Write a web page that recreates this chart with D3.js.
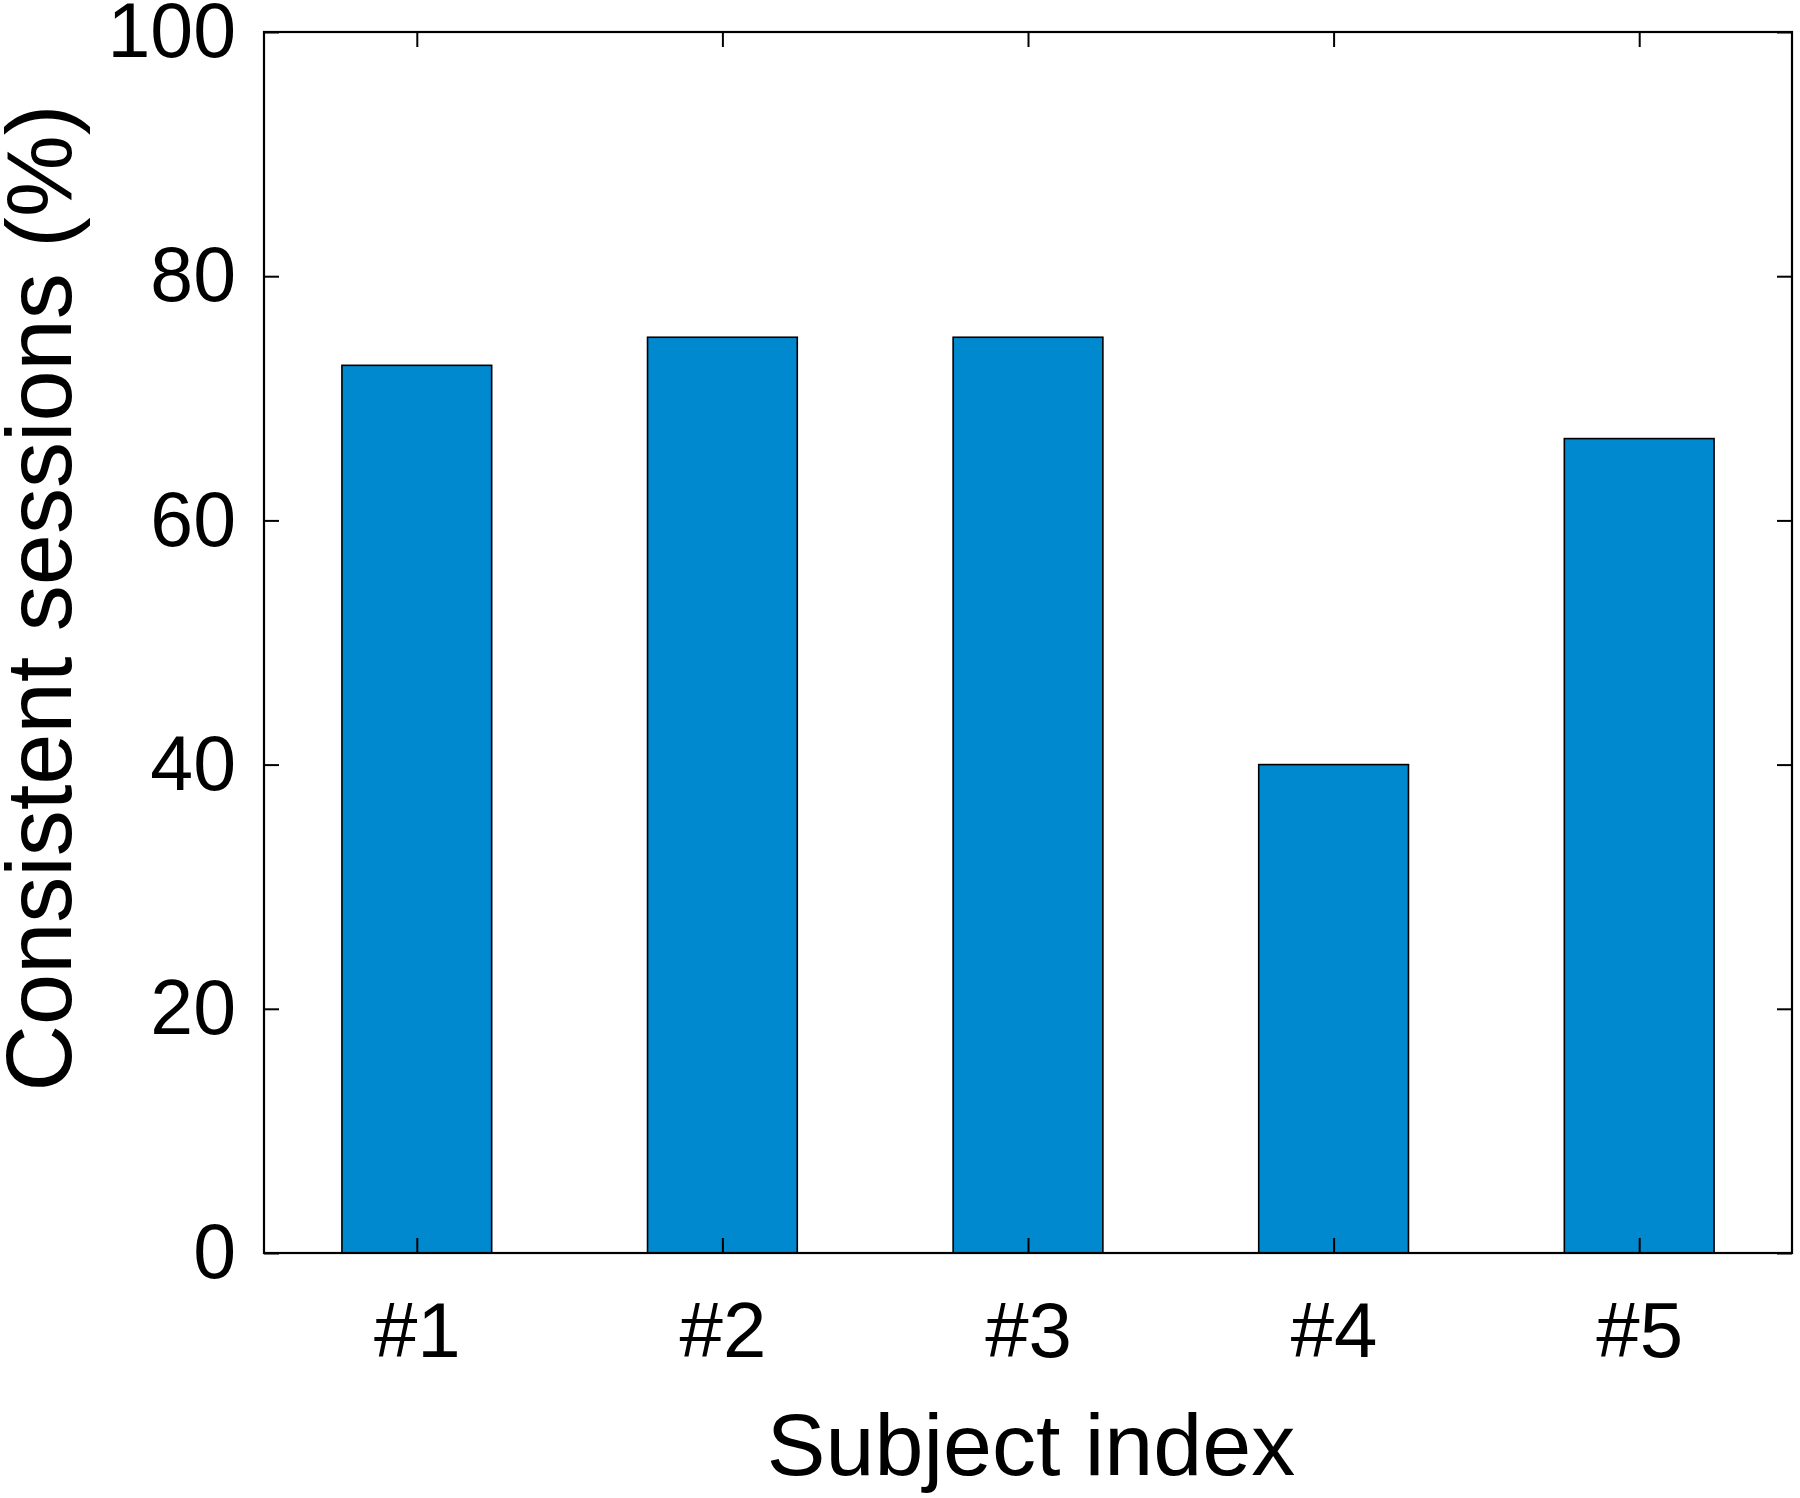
<!DOCTYPE html>
<html>
<head>
<meta charset="utf-8">
<script src="https://cdn.jsdelivr.net/npm/d3@7"></script>
<style>
  body { margin: 0; background: #fff; }
  text { font-family: "Liberation Sans", Arial, Helvetica, sans-serif; fill: #000; }
</style>
</head>
<body>
<svg id="chart" width="1800" height="1498"></svg>
<script>
// --- data ---
const subjects = ["#1", "#2", "#3", "#4", "#5"];
const consistentPct = [72.7, 75, 75, 40, 66.7];
const yTicks = [0, 20, 40, 60, 80, 100];

// --- layout ---
const PLOT = { left: 264, right: 1792, top: 32, bottom: 1253 };
const BAR_WIDTH = 0.49;   // in category units
const TICK_LEN = 15;
const BAR_COLOR = "#0089cf";

const svg = d3.select("#chart");

const x = d3.scaleLinear().domain([0.5, subjects.length + 0.5]).range([PLOT.left, PLOT.right]);
const y = d3.scaleLinear().domain([0, 100]).range([PLOT.bottom, PLOT.top]);

// bars
svg.append("g")
    .selectAll("rect")
    .data(consistentPct)
    .enter()
    .append("rect")
    .attr("x", (d, i) => x(i + 1 - BAR_WIDTH / 2))
    .attr("y", (d) => y(d))
    .attr("width", (d, i) => x(i + 1 + BAR_WIDTH / 2) - x(i + 1 - BAR_WIDTH / 2))
    .attr("height", (d) => y(0) - y(d))
    .attr("fill", BAR_COLOR)
    .attr("stroke", "#000")
    .attr("stroke-width", 1.6);

// axes (box, ticks inward)
const xPos = subjects.map((s, i) => i + 1);

svg.append("g")
    .attr("transform", `translate(0,${PLOT.bottom})`)
    .call(d3.axisBottom(x).tickValues(xPos).tickFormat((d) => subjects[d - 1]).tickSizeInner(-TICK_LEN).tickSizeOuter(0).tickPadding(49))
    .call((g) => g.select(".domain").remove())
    .call((g) => g.selectAll("text").style("font-size", "78px").attr("dy", "0.71em"));

svg.append("g")
    .attr("transform", `translate(0,${PLOT.top})`)
    .call(d3.axisTop(x).tickValues(xPos).tickFormat("").tickSizeInner(-TICK_LEN).tickSizeOuter(0))
    .call((g) => g.select(".domain").remove());

svg.append("g")
    .attr("transform", `translate(${PLOT.left},0)`)
    .call(d3.axisLeft(y).tickValues(yTicks).tickSizeInner(-TICK_LEN).tickSizeOuter(0).tickPadding(28))
    .call((g) => g.select(".domain").remove())
    .call((g) => g.selectAll("text").style("font-size", "77px"));

svg.append("g")
    .attr("transform", `translate(${PLOT.right},0)`)
    .call(d3.axisRight(y).tickValues(yTicks).tickFormat("").tickSizeInner(-TICK_LEN).tickSizeOuter(0))
    .call((g) => g.select(".domain").remove());

svg.selectAll(".tick line").attr("stroke", "#000").attr("stroke-width", 2);

// box outline
svg.append("rect")
    .attr("x", PLOT.left)
    .attr("y", PLOT.top)
    .attr("width", PLOT.right - PLOT.left)
    .attr("height", PLOT.bottom - PLOT.top)
    .attr("fill", "none")
    .attr("stroke", "#000")
    .attr("stroke-width", 2.2);

// axis titles
svg.append("text")
    .attr("x", (PLOT.left + PLOT.right) / 2 + 3)
    .attr("y", 1475)
    .attr("text-anchor", "middle")
    .style("font-size", "88px")
    .text("Subject index");

svg.append("text")
    .attr("transform", `translate(71,${598}) rotate(-90)`)
    .attr("text-anchor", "middle")
    .style("font-size", "92px")
    .text("Consistent sessions (%)");
</script>
</body>
</html>
